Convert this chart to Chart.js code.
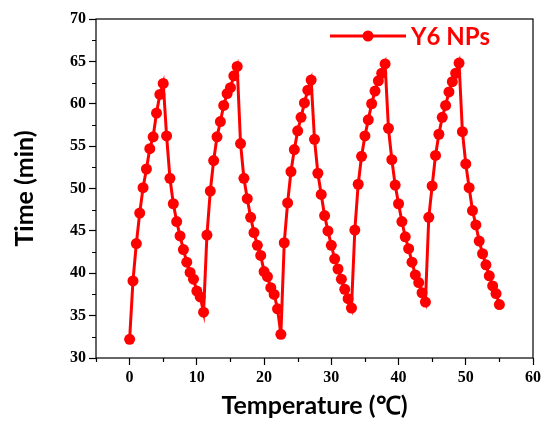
<!DOCTYPE html>
<html>
<head>
<meta charset="utf-8">
<script src="https://cdn.jsdelivr.net/npm/chart.js@4/dist/chart.umd.min.js"></script>
<style>
  html, body { margin: 0; padding: 0; background: #fff; }
  #wrap { width: 546px; height: 421px; }
</style>
</head>
<body>
<div id="wrap"><canvas id="cycleChart"></canvas></div>
<script>
const SERIES_LABEL = "Y6 NPs";
const X_TITLE = "Temperature (\u2103)";
const Y_TITLE = "Time (min)";

const X_TICKS = [0, 10, 20, 30, 40, 50, 60];
const Y_TICKS = [30, 35, 40, 45, 50, 55, 60, 65, 70];

// sample positions along the x axis
const temperature = [
  0, 0.5, 1, 1.5, 2, 2.5, 3, 3.5, 4, 4.5, 5,
  5.5, 6, 6.5, 7, 7.5, 8, 8.5, 9, 9.5, 10, 10.5, 11,
  11.5, 12, 12.5, 13, 13.5, 14, 14.5, 15, 15.5, 16,
  16.5, 17, 17.5, 18, 18.5, 19, 19.5, 20, 20.5, 21, 21.5, 22, 22.5,
  23, 23.5, 24, 24.5, 25, 25.5, 26, 26.5, 27,
  27.5, 28, 28.5, 29, 29.5, 30, 30.5, 31, 31.5, 32, 32.5, 33,
  33.5, 34, 34.5, 35, 35.5, 36, 36.5, 37, 37.5, 38,
  38.5, 39, 39.5, 40, 40.5, 41, 41.5, 42, 42.5, 43, 43.5, 44,
  44.5, 45, 45.5, 46, 46.5, 47, 47.5, 48, 48.5, 49,
  49.5, 50, 50.5, 51, 51.5, 52, 52.5, 53, 53.5, 54, 54.5, 55
];

// measured values, one row per heating / cooling leg
const time = [
  32.2, 39.1, 43.5, 47.1, 50.1, 52.3, 54.7, 56.1, 58.9, 61.1, 62.4,
  56.2, 51.2, 48.2, 46.1, 44.4, 42.8, 41.3, 40.1, 39.3, 37.9, 37.2, 35.4,
  44.5, 49.7, 53.3, 56.1, 57.9, 59.8, 61.2, 61.9, 63.3, 64.4,
  55.3, 51.2, 48.8, 46.6, 44.8, 43.3, 42.1, 40.2, 39.6, 38.3, 37.5, 35.8, 32.8,
  43.6, 48.3, 52.0, 54.6, 56.8, 58.4, 60.1, 61.6, 62.8,
  55.8, 51.8, 49.3, 46.8, 45.0, 43.3, 41.7, 40.5, 39.3, 38.1, 37.0, 35.9,
  45.1, 50.5, 53.8, 56.2, 58.1, 60.0, 61.5, 62.7, 63.6, 64.7,
  57.1, 53.4, 50.4, 48.2, 46.1, 44.3, 42.9, 41.3, 39.8, 38.9, 37.7, 36.6,
  46.6, 50.3, 53.9, 56.4, 58.4, 59.8, 61.4, 62.6, 63.6, 64.8,
  56.7, 52.9, 50.1, 47.4, 45.7, 43.8, 42.3, 41.0, 39.7, 38.5, 37.6, 36.3
];

const RED = "#ff0000";
const tickFont = { family: "'Liberation Serif', serif", size: 16, weight: "bold" };
const titleFont = { family: "Lato, 'Open Sans', sans-serif", size: 25, weight: "bold" };

// frame box, half-step minor ticks and the inline legend
const framePlugin = {
  id: "frame",
  afterDraw(chart) {
    const { ctx, chartArea: a, scales } = chart;
    ctx.save();
    ctx.strokeStyle = "#000";
    ctx.lineWidth = 1.2;
    ctx.strokeRect(a.left, a.top, a.right - a.left, a.bottom - a.top);

    ctx.beginPath();
    const xs = scales.x;
    for (let i = 0; i < X_TICKS.length; i++) {
      const v = X_TICKS[i] - 5;
      if (v < xs.min) continue;
      const px = Math.round(xs.getPixelForValue(v)) + 0.5;
      ctx.moveTo(px, a.bottom);
      ctx.lineTo(px, a.bottom + 4);
    }
    const ys = scales.y;
    for (let i = 1; i < Y_TICKS.length; i++) {
      const v = (Y_TICKS[i] + Y_TICKS[i - 1]) / 2;
      const py = Math.round(ys.getPixelForValue(v)) + 0.5;
      ctx.moveTo(a.left, py);
      ctx.lineTo(a.left - 4, py);
    }
    ctx.stroke();

    // legend: line + marker, then label
    const ds = chart.data.datasets[0];
    const ly = a.top + 17;
    const lx0 = a.right - 203;
    const lx1 = a.right - 127;
    ctx.strokeStyle = ds.borderColor;
    ctx.lineWidth = ds.borderWidth;
    ctx.beginPath();
    ctx.moveTo(lx0, ly);
    ctx.lineTo(lx1, ly);
    ctx.stroke();
    ctx.fillStyle = ds.pointBackgroundColor;
    ctx.beginPath();
    ctx.arc((lx0 + lx1) / 2, ly, ds.pointRadius, 0, Math.PI * 2);
    ctx.fill();
    ctx.font = "bold 24px Lato, 'Open Sans', sans-serif";
    ctx.textBaseline = "middle";
    ctx.fillText(ds.label, lx1 + 5, ly + 1);
    ctx.restore();
  },
};

const ctx = document.getElementById("cycleChart").getContext("2d");
new Chart(ctx, {
  type: "line",
  data: {
    datasets: [
      {
        label: SERIES_LABEL,
        data: temperature.map((x, i) => ({ x, y: time[i] })),
        borderColor: RED,
        backgroundColor: RED,
        pointBackgroundColor: RED,
        pointBorderWidth: 0,
        pointRadius: 5.5,
        borderWidth: 3,
        tension: 0,
        fill: false,
      },
    ],
  },
  options: {
    responsive: true,
    maintainAspectRatio: false,
    animation: false,
    layout: { padding: { top: 19, right: 13, bottom: 0, left: 0 } },
    scales: {
      x: {
        type: "linear",
        min: -5,
        max: 60,
        afterBuildTicks: (s) => { s.ticks = X_TICKS.map((v) => ({ value: v })); },
        afterFit: (s) => { s.height = 63; },
        grid: { drawOnChartArea: false, drawTicks: true, tickLength: 7, tickColor: "#000", tickWidth: 1.2 },
        border: { display: false },
        ticks: { font: tickFont, color: "#000", padding: 3, maxRotation: 0 },
        title: { display: true, text: X_TITLE, font: titleFont, color: "#000", padding: { top: 0, bottom: 0 } },
      },
      y: {
        min: 30,
        max: 70,
        afterBuildTicks: (s) => { s.ticks = Y_TICKS.map((v) => ({ value: v })); },
        afterFit: (s) => { s.width = 96; },
        grid: { drawOnChartArea: false, drawTicks: true, tickLength: 7, tickColor: "#000", tickWidth: 1.2 },
        border: { display: false },
        ticks: { font: tickFont, color: "#000", padding: 3 },
        title: { display: true, text: Y_TITLE, font: titleFont, color: "#000", padding: { top: 10, bottom: 0 } },
      },
    },
    plugins: {
      legend: { display: false },
      tooltip: { enabled: false },
    },
  },
  plugins: [framePlugin],
});
</script>
</body>
</html>
